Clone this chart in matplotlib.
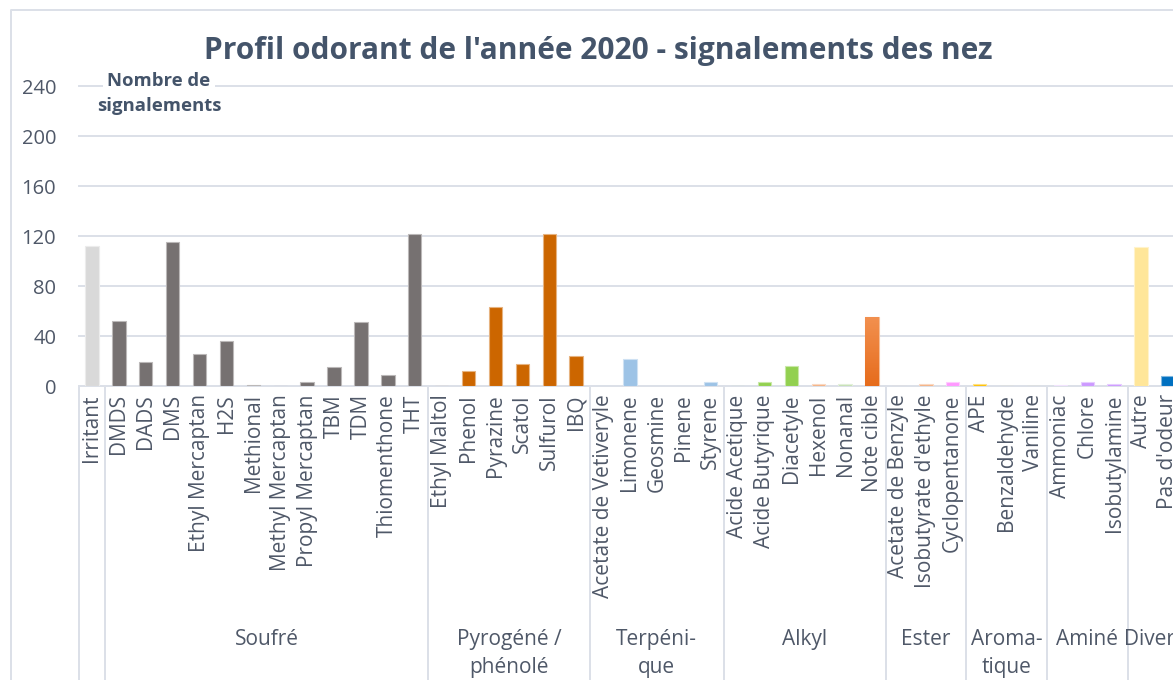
import numpy as np
import matplotlib
matplotlib.use("Agg")
import matplotlib.pyplot as plt
from matplotlib.colors import to_rgb, LinearSegmentedColormap
from matplotlib.transforms import blended_transform_factory
from matplotlib.lines import Line2D

# Categories (odour notes), grouped by family
group_labels = ['', 'Soufré', 'Pyrogéné /\nphénolé', 'Terpéni-\nque', 'Alkyl', 'Ester',
                'Aroma-\ntique', 'Aminé', 'Divers']
group_sizes = [1, 12, 6, 5, 6, 3, 3, 3, 2]

categories = ['Irritant',
              'DMDS', 'DADS', 'DMS', 'Ethyl Mercaptan', 'H2S', 'Methional', 'Methyl Mercaptan',
              'Propyl Mercaptan', 'TBM', 'TDM', 'Thiomenthone', 'THT',
              'Ethyl Maltol', 'Phenol', 'Pyrazine', 'Scatol', 'Sulfurol', 'IBQ',
              'Acetate de Vetiveryle', 'Limonene', 'Geosmine', 'Pinene', 'Styrene',
              'Acide Acetique', 'Acide Butyrique', 'Diacetyle', 'Hexenol', 'Nonanal', 'Note cible',
              'Acetate de Benzyle', "Isobutyrate d'ethyle", 'Cyclopentanone',
              'APE', 'Benzaldehyde', 'Vaniline',
              'Ammoniac', 'Chlore', 'Isobutylamine',
              'Autre', "Pas d'odeur"]

# Nombre de signalements
values = [112,
          52, 19, 115, 26, 36, 1, 0, 3, 15, 51, 9, 122,
          0, 12, 63, 18, 122, 24,
          0, 22, 0, 0, 3,
          0, 3, 16, 2, 2, 55,
          0, 2, 3,
          2, 0, 0,
          1, 3, 2,
          111, 8]

bar_colors = ['#D9D9D9'] + ['#767171'] * 12 + ['#CC6600'] * 6 + ['#9DC3E6'] * 5 + \
             ['#92D050', '#92D050', '#92D050', '#F4B183', '#C5E0B4', '#ED7D31'] + \
             ['#F4B183', '#F4B183', '#FF99FF'] + ['#FFC000'] * 3 + \
             ['#E2C6FA', '#CC99FF', '#CC99FF'] + ['#FFE699', '#0070C0']

TITLE_COLOR = '#44546A'
TEXT_COLOR = '#4F5868'
LINE_COLOR = '#DCE0E8'
FS = 15

plt.rcParams['font.family'] = ['Open Sans', 'DejaVu Sans']

W, H = 1173, 680
fig = plt.figure(figsize=(W / 100, H / 100), dpi=100)

# Plot area in pixels: x from 78.5, 26.9 px per category, y 0 at 386 px, 240 at 86 px
slot = 26.9
n = len(categories)
ax = fig.add_axes([78.5 / W, (H - 386) / H, n * slot / W, 300 / H])

x = np.arange(n)
edge_colors = [tuple(0.5 * np.array(to_rgb(c)) + 0.5) for c in bar_colors]
bars = ax.bar(x, values, width=0.5, color=bar_colors, edgecolor=edge_colors,
              linewidth=0.8, zorder=3)

# gradient fill for "Note cible"
idx = categories.index('Note cible')
patch = bars[idx]
cmap = LinearSegmentedColormap.from_list('nc', ['#E66C1C', '#F2904F'])
grad = np.linspace(0, 1, 100).reshape(-1, 1)
im = ax.imshow(grad, extent=[patch.get_x(), patch.get_x() + patch.get_width(), 0, values[idx]],
               origin='lower', aspect='auto', cmap=cmap, zorder=3.5)
im.set_clip_path(patch)
ax.set_xlim(-0.5, n - 0.5)
ax.set_ylim(0, 240)

# horizontal gridlines
yticks = list(range(0, 241, 40))
for y in yticks:
    ax.axhline(y, color=LINE_COLOR, lw=1.4, zorder=0, clip_on=False)

ax.set_yticks(yticks)
ax.set_yticklabels([str(t) for t in yticks], fontsize=14.5, color=TEXT_COLOR)
ax.set_xticks(x)
ax.set_xticklabels(categories, rotation=90, fontsize=FS, color=TEXT_COLOR)
ax.tick_params(axis='y', length=0, pad=16)
ax.tick_params(axis='x', length=0, pad=6)
for s in ax.spines.values():
    s.set_visible(False)

# group separators and group labels below the axis
trans = blended_transform_factory(ax.transData, fig.transFigure)
bounds = np.concatenate([[-0.5], np.cumsum(group_sizes) - 0.5])
for b in bounds:
    fig.add_artist(Line2D([b, b], [0, (H - 386) / H], transform=trans,
                          color=LINE_COLOR, lw=1.4))
for i, lab in enumerate(group_labels):
    if not lab:
        continue
    cx = (bounds[i] + bounds[i + 1]) / 2
    for k, line in enumerate(lab.split('\n')):
        fig.text(cx, 1 - (645 + 28 * k) / H, line, transform=trans, ha='center',
                 va='baseline', fontsize=FS, color=TEXT_COLOR)

# chart border
fig.add_artist(Line2D([11 / W, 11 / W, 1.05], [-0.05, 1 - 10 / H, 1 - 10 / H],
                      transform=fig.transFigure, color=LINE_COLOR, lw=1.4))

# titles
fig.text(598 / W, 1 - 59 / H, "Profil odorant de l'année 2020 - signalements des nez",
         ha='center', va='baseline', fontsize=21.5, fontweight='bold', color=TITLE_COLOR)
for k, line in enumerate(['Nombre de', 'signalements']):
    fig.text(159 / W, 1 - (86 + 25 * k) / H, line, ha='center', va='baseline',
             fontsize=13.3, fontweight='bold', color=TITLE_COLOR,
             bbox=dict(facecolor='white', edgecolor='none', pad=3), zorder=5)

fig.savefig('out.png', dpi=100, facecolor='white')
